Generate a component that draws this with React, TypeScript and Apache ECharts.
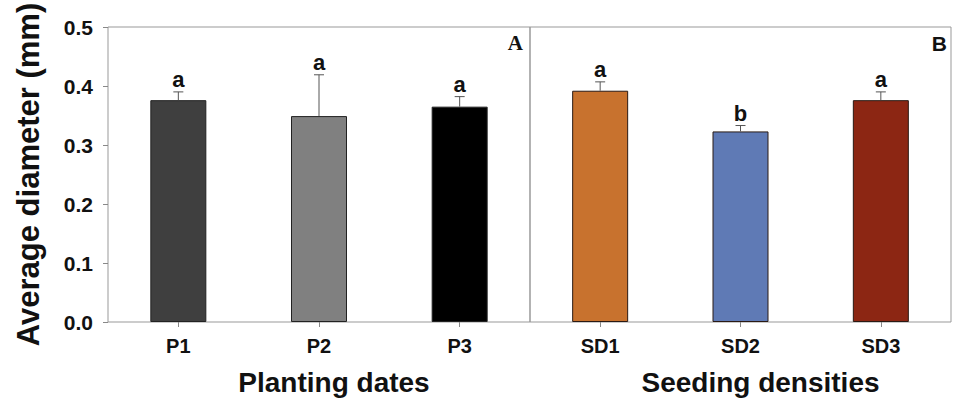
import React, { useEffect, useRef } from "react";
import * as echarts from "echarts";

const yTicks = [0.0, 0.1, 0.2, 0.3, 0.4, 0.5];

const plantingCats = ["P1", "P2", "P3"];
const plantingMeans = [0.376, 0.349, 0.365];
const plantingErr = [0.014, 0.07, 0.017];
const plantingLetters = ["a", "a", "a"];
const plantingColors = ["#3f3f3f", "#808080", "#000000"];

const densityCats = ["SD1", "SD2", "SD3"];
const densityMeans = [0.392, 0.323, 0.376];
const densityErr = [0.015, 0.01, 0.014];
const densityLetters = ["a", "b", "a"];
const densityColors = ["#C8722E", "#5F7AB5", "#8C2613"];

const SANS = "'Liberation Sans', Arial, sans-serif";

function errSeries(axisIdx: number, means: number[], errs: number[], letters: string[]) {
  return {
    type: "custom",
    xAxisIndex: axisIdx,
    yAxisIndex: axisIdx,
    z: 5,
    data: means.map((m, i) => [i, m, errs[i]]),
    renderItem: (params: any, api: any) => {
      const x = api.value(0);
      const y = api.value(1);
      const e = api.value(2);
      const base = api.coord([x, y]);
      const top = api.coord([x, y + e]);
      const stroke = { stroke: "#555", lineWidth: 1 };
      return {
        type: "group",
        children: [
          { type: "line", shape: { x1: base[0], y1: base[1], x2: top[0], y2: top[1] }, style: stroke },
          { type: "line", shape: { x1: top[0] - 5, y1: top[1], x2: top[0] + 5, y2: top[1] }, style: stroke },
          {
            type: "text",
            style: {
              text: letters[params.dataIndex],
              x: top[0],
              y: top[1] - 1,
              align: "center",
              verticalAlign: "bottom",
              fontSize: 22,
              fontWeight: "bold",
              fontFamily: SANS,
              fill: "#111",
            },
          },
        ],
      };
    },
  };
}

export default function App() {
  const ref = useRef<HTMLDivElement>(null);
  useEffect(() => {
    if (!ref.current) return;
    const chart = echarts.init(ref.current, undefined, { renderer: "svg" });
    const yAxisBase = {
      type: "value",
      min: 0,
      max: 0.5,
      interval: 0.1,
      splitLine: { show: false },
      axisLine: { show: false },
    };
    const xAxisBase = {
      type: "category",
      axisLine: { show: false },
      axisTick: { show: true, alignWithLabel: true, length: 5, lineStyle: { color: "#888" } },
      axisLabel: { fontSize: 20, fontWeight: "bold", fontFamily: SANS, color: "#111", margin: 14 },
      nameLocation: "middle",
      nameGap: 46,
      nameTextStyle: { fontSize: 28, fontWeight: "bold", fontFamily: SANS, color: "#111" },
    };
    chart.setOption({
      animation: false,
      backgroundColor: "#fff",
      grid: [
        { left: 108, top: 27, width: 422, height: 296, show: true, borderColor: "#999", borderWidth: 1 },
        { left: 530, top: 27, width: 421, height: 296, show: true, borderColor: "#999", borderWidth: 1 },
      ],
      xAxis: [
        {
          ...xAxisBase,
          gridIndex: 0,
          data: plantingCats,
          name: "Planting dates",
          nameTextStyle: { ...xAxisBase.nameTextStyle, padding: [0, 0, 0, 30] },
        },
        {
          ...xAxisBase,
          gridIndex: 1,
          data: densityCats,
          name: "Seeding densities",
          nameTextStyle: { ...xAxisBase.nameTextStyle, padding: [0, 0, 0, 40] },
        },
      ],
      yAxis: [
        {
          ...yAxisBase,
          gridIndex: 0,
          axisTick: { show: true, length: 5, lineStyle: { color: "#888" } },
          axisLabel: {
            fontSize: 21,
            fontWeight: "bold",
            fontFamily: SANS,
            color: "#111",
            margin: 15,
            formatter: (v: number) => (yTicks.includes(Math.round(v * 10) / 10) ? v.toFixed(1) : ""),
          },
          name: "Average diameter (mm)",
          nameLocation: "middle",
          nameGap: 64,
          nameTextStyle: { fontSize: 31, fontWeight: "bold", fontFamily: SANS, color: "#111" },
        },
        {
          ...yAxisBase,
          gridIndex: 1,
          axisTick: { show: false },
          axisLabel: { show: false },
        },
      ],
      series: [
        {
          type: "bar",
          xAxisIndex: 0,
          yAxisIndex: 0,
          barWidth: 56,
          data: plantingMeans.map((v, i) => ({
            value: v,
            itemStyle: { color: plantingColors[i], borderColor: "#222", borderWidth: 1 },
          })),
        },
        {
          type: "bar",
          xAxisIndex: 1,
          yAxisIndex: 1,
          barWidth: 56,
          data: densityMeans.map((v, i) => ({
            value: v,
            itemStyle: { color: densityColors[i], borderColor: "#2a1a14", borderWidth: 1 },
          })),
        },
        errSeries(0, plantingMeans, plantingErr, plantingLetters),
        errSeries(1, densityMeans, densityErr, densityLetters),
      ],
      graphic: [
        {
          type: "text",
          x: 523,
          y: 43,
          style: {
            text: "A",
            align: "right",
            verticalAlign: "middle",
            fontSize: 21,
            fontWeight: "bold",
            fontFamily: "'Liberation Serif', 'Times New Roman', serif",
            fill: "#111",
          },
        },
        {
          type: "text",
          x: 947,
          y: 43,
          style: {
            text: "B",
            align: "right",
            verticalAlign: "middle",
            fontSize: 21,
            fontWeight: "bold",
            fontFamily: SANS,
            fill: "#111",
          },
        },
      ],
    });
    return () => chart.dispose();
  }, []);
  return (
    <div
      ref={ref}
      style={{ position: "fixed", left: 0, top: 0, width: 953, height: 401, background: "#fff" }}
    />
  );
}
